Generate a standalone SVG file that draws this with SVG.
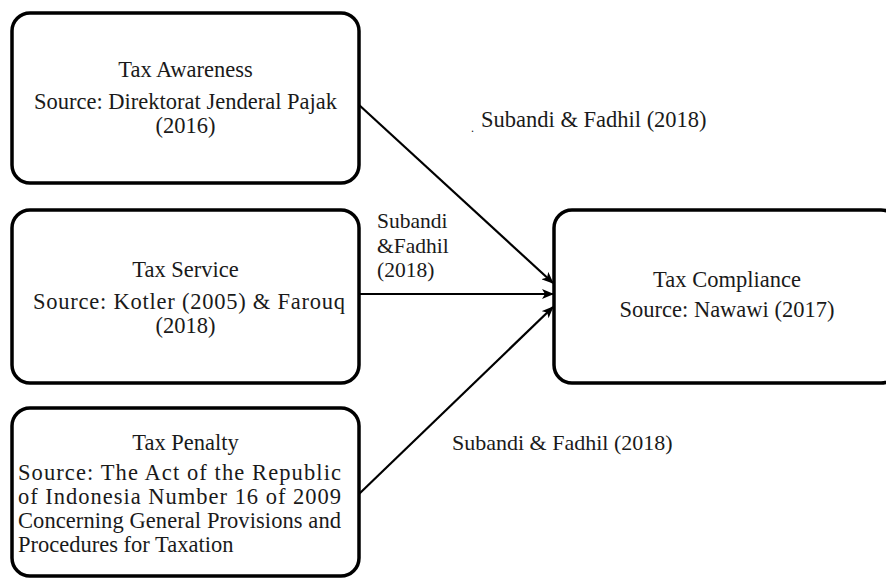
<svg xmlns="http://www.w3.org/2000/svg" width="886" height="578" viewBox="0 0 886 578">
<style>
.box{fill:#fff;stroke:#000;stroke-width:3.5}
.c{text-anchor:middle}
.conn{stroke:#000;stroke-width:2.2;fill:none}
</style>
<defs>
<marker id="arr" markerWidth="12" markerHeight="10" refX="11" refY="5" orient="auto" markerUnits="userSpaceOnUse">
<path d="M0,0 L12,5 L0,10 L3,5 Z" fill="#000"/>
</marker>
</defs>
<rect width="886" height="578" fill="#fff"/>
<g id="connectors">
<line class="conn" x1="358" y1="104" x2="553" y2="283" marker-end="url(#arr)"/>
<line class="conn" x1="359" y1="294" x2="553" y2="294" marker-end="url(#arr)"/>
<line class="conn" x1="359" y1="494" x2="553" y2="307" marker-end="url(#arr)"/>
<text x="471" y="132" style="font-family:'Liberation Serif',serif;font-size:12px" fill="#1a1a1a">.</text>
<text x="481" y="127" style="font-family:'Liberation Serif',serif;font-size:22.5px" fill="#1a1a1a">Subandi &amp; Fadhil (2018)</text>
<text x="377" y="228" style="font-family:'Liberation Serif',serif;font-size:21.5px" fill="#1a1a1a">Subandi</text>
<text x="377" y="253" style="font-family:'Liberation Serif',serif;font-size:21.5px" fill="#1a1a1a">&amp;Fadhil</text>
<text x="377" y="277" style="font-family:'Liberation Serif',serif;font-size:21.5px" fill="#1a1a1a">(2018)</text>
<text x="452" y="450" style="font-family:'Liberation Serif',serif;font-size:22px" fill="#1a1a1a">Subandi &amp; Fadhil (2018)</text>
</g>
<g id="tax-awareness">
<rect class="box" x="12" y="13" width="347" height="170" rx="18"/>
<text class="c" x="185.5" y="77" style="font-family:'Liberation Serif',serif;font-size:22.5px" fill="#1a1a1a">Tax Awareness</text>
<text class="c" x="185.5" y="109" style="font-family:'Liberation Serif',serif;font-size:22.5px" fill="#1a1a1a">Source: Direktorat Jenderal Pajak</text>
<text class="c" x="185.5" y="133" style="font-family:'Liberation Serif',serif;font-size:22.5px" fill="#1a1a1a">(2016)</text>
</g>
<g id="tax-service">
<rect class="box" x="12" y="210" width="347" height="173" rx="18"/>
<text class="c" x="185.5" y="277" style="font-family:'Liberation Serif',serif;font-size:22.5px" fill="#1a1a1a">Tax Service</text>
<text x="33" y="309" textLength="312" lengthAdjust="spacing" style="font-family:'Liberation Serif',serif;font-size:22.5px" fill="#1a1a1a">Source: Kotler (2005) &amp; Farouq</text>
<text class="c" x="185.5" y="333" style="font-family:'Liberation Serif',serif;font-size:22.5px" fill="#1a1a1a">(2018)</text>
</g>
<g id="tax-penalty">
<rect class="box" x="12" y="408" width="347" height="168" rx="18"/>
<text class="c" x="185.5" y="450" style="font-family:'Liberation Serif',serif;font-size:22.5px" fill="#1a1a1a">Tax Penalty</text>
<text x="18" y="480" textLength="323" lengthAdjust="spacing" style="font-family:'Liberation Serif',serif;font-size:22.5px" fill="#1a1a1a">Source: The Act of the Republic</text>
<text x="18" y="504" textLength="323" lengthAdjust="spacing" style="font-family:'Liberation Serif',serif;font-size:22.5px" fill="#1a1a1a">of Indonesia Number 16 of 2009</text>
<text x="18" y="528" textLength="323" lengthAdjust="spacing" style="font-family:'Liberation Serif',serif;font-size:22.5px" fill="#1a1a1a">Concerning General Provisions and</text>
<text x="18" y="552" style="font-family:'Liberation Serif',serif;font-size:22.5px" fill="#1a1a1a">Procedures for Taxation</text>
</g>
<g id="tax-compliance">
<rect class="box" x="554" y="210" width="345" height="173" rx="18"/>
<text class="c" x="727" y="287" style="font-family:'Liberation Serif',serif;font-size:22.5px" fill="#1a1a1a">Tax Compliance</text>
<text class="c" x="727" y="317" style="font-family:'Liberation Serif',serif;font-size:22.5px" fill="#1a1a1a">Source: Nawawi (2017)</text>
</g>
</svg>
